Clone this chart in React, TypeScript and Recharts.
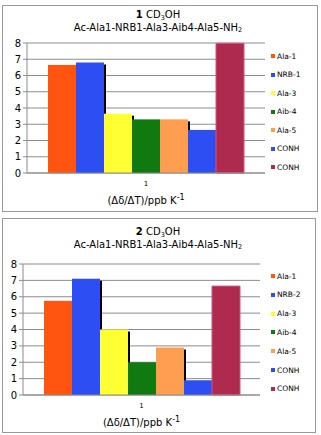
import React from 'react';
import { BarChart, Bar, XAxis, YAxis, CartesianGrid } from 'recharts';

const seriesKeys = ['ala1', 'nrb', 'ala3', 'aib4', 'ala5', 'conh1', 'conh2'];
const colors = ['#FF5511', '#2D4EF2', '#FFFF33', '#107A10', '#FF9D50', '#2D4EF2', '#AE2A4E'];
const legend1 = ['Ala-1', 'NRB-1', 'Ala-3', 'Aib-4', 'Ala-5', 'CONH', 'CONH'];
const legend2 = ['Ala-1', 'NRB-2', 'Ala-3', 'Aib-4', 'Ala-5', 'CONH', 'CONH'];
const values1 = [6.65, 6.8, 3.65, 3.3, 3.3, 2.65, 7.98];
const values2 = [5.75, 7.1, 4.0, 2.0, 2.9, 0.9, 6.65];
const yTicks = [0, 1, 2, 3, 4, 5, 6, 7, 8];
const category = '1';

const FONT = '"DejaVu Sans", Verdana, sans-serif';

const buildRow = (values: number[]) => {
  const row: Record<string, string | number> = { name: category };
  seriesKeys.forEach((k, i) => (row[k] = values[i]));
  return [row];
};

// bar with a thin dark drop shadow on its right edge
const ShadowBar = (props: any) => {
  const { x, y, width, height, fill } = props;
  if (!height || height <= 0) return null;
  return (
    <g>
      <rect x={x + width} y={y + 2} width={2} height={height - 2} fill="#000" />
      <rect x={x} y={y} width={width} height={height} fill={fill} />
    </g>
  );
};

const AxisTitle = (props: any) => {
  const { viewBox } = props;
  const cx = viewBox.x + viewBox.width / 2;
  return (
    <text x={cx} y={viewBox.y + 31} textAnchor="middle" fontSize={10} fontFamily={FONT} fill="#000">
      (Δδ/ΔT)/ppb K
      <tspan dy={-4} fontSize={8}>-1</tspan>
    </text>
  );
};

const subStyle: React.CSSProperties = { fontSize: 6.5, position: 'relative', top: 1.5, lineHeight: 0 };

interface PanelProps {
  top: number;
  height: number;
  num: string;
  values: number[];
  labels: string[];
  margin: { top: number; right: number; bottom: number; left: number };
  border: { left: number; top: number; width: number; height: number };
  titleTop: number;
  legendTop: number;
  legendStep: number;
}

const Panel: React.FC<PanelProps> = ({ top, height, num, values, labels, margin, border, titleTop, legendTop, legendStep }) => {
  const data = buildRow(values);
  return (
    <div style={{ position: 'absolute', left: 0, top, width: 321, height }}>
      <div
        style={{
          position: 'absolute',
          left: border.left,
          top: border.top,
          width: border.width,
          height: border.height,
          border: '1px solid #9a9a9a',
          boxSizing: 'border-box',
        }}
      />
      <div
        style={{
          position: 'absolute',
          left: 0,
          top: titleTop,
          width: 316,
          textAlign: 'center',
          fontSize: 10,
          lineHeight: '12.5px',
          color: '#000',
        }}
      >
        <div>
          <b>{num}</b> CD<span style={subStyle}>3</span>OH
        </div>
        <div>
          Ac-Ala1-NRB1-Ala3-Aib4-Ala5-NH<span style={subStyle}>2</span>
        </div>
      </div>
      <div style={{ position: 'absolute', left: 0, top: 0 }}>
        <BarChart
          width={321}
          height={height}
          data={data}
          margin={margin}
          barGap={0}
          barCategoryGap={21}
        >
          <CartesianGrid vertical={false} stroke="#8c8c8c" strokeWidth={1} />
          <XAxis
            dataKey="name"
            tickLine={false}
            axisLine={{ stroke: '#8c8c8c' }}
            tick={{ fontSize: 7, fill: '#000', fontFamily: FONT }}
            height={30}
            label={<AxisTitle />}
          />
          <YAxis
            domain={[0, 8]}
            ticks={yTicks}
            width={20}
            tickSize={4}
            tickLine={{ stroke: '#8c8c8c' }}
            axisLine={{ stroke: '#8c8c8c' }}
            tick={{ fontSize: 10, fill: '#000', fontFamily: FONT }}
            interval={0}
          />
          {seriesKeys.map((k, i) => (
            <Bar
              key={k}
              dataKey={k}
              fill={colors[i]}
              isAnimationActive={false}
              shape={i < seriesKeys.length - 1 ? <ShadowBar /> : undefined}
              stroke={i === seriesKeys.length - 1 ? '#d2557a' : undefined}
            />
          ))}
        </BarChart>
      </div>
      {labels.map((l, i) => (
        <div
          key={i}
          style={{
            position: 'absolute',
            left: 271,
            top: legendTop + i * legendStep - 5,
            height: 10,
            display: 'flex',
            alignItems: 'center',
            fontSize: 7.5,
            color: '#000',
          }}
        >
          <span style={{ display: 'inline-block', width: 4, height: 4, background: colors[i], marginRight: 2 }} />
          {l}
        </div>
      ))}
    </div>
  );
};

export default function App() {
  return (
    <div
      style={{
        position: 'absolute',
        left: 0,
        top: 0,
        width: 321,
        height: 435,
        background: '#fff',
        fontFamily: FONT,
      }}
    >
      <Panel
        top={0}
        height={213}
        num="1"
        values={values1}
        labels={legend1}
        margin={{ top: 43, right: 56, bottom: 10, left: 7 }}
        border={{ left: 2, top: 5, width: 316, height: 207 }}
        titleTop={9}
        legendTop={56}
        legendStep={18.5}
      />
      <Panel
        top={215}
        height={220}
        num="2"
        values={values2}
        labels={legend2}
        margin={{ top: 49, right: 61, bottom: 10, left: 3 }}
        border={{ left: 2, top: 3, width: 314, height: 215 }}
        titleTop={11}
        legendTop={61}
        legendStep={18.8}
      />
    </div>
  );
}
